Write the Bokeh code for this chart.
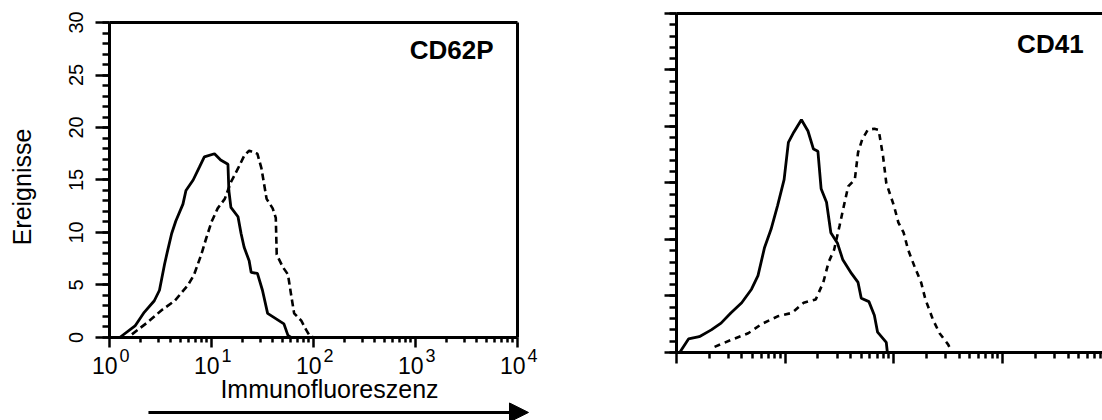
import math
from bokeh.plotting import figure
from bokeh.models import (FixedTicker, LinearAxis, LogAxis, Arrow, NormalHead, Range1d,
                          CustomJSTickFormatter)
from bokeh.layouts import row
from bokeh.core.properties import value
from bokeh.embed import file_html
from bokeh.resources import INLINE

# ---------------- data ----------------
# CD62P panel: solid = control, dashed = stimulated
cd62p_solid_x = [1.26, 1.78, 2.19, 2.75, 3.09, 3.47, 3.72, 4.07, 4.47, 5.25, 5.62, 6.61, 7.59, 8.51,
                 10.7, 12.3, 14.5, 14.8, 15.5, 18.2, 19.5, 20.9, 23.4, 24.5, 28.2, 31.6, 35.5, 42.7,
                 51.3, 56.2, 60.3]
cd62p_solid_y = [0, 1.1, 2.4, 3.5, 4.5, 7.0, 8.3, 9.9, 11.1, 12.7, 14.0, 15.0, 16.2, 17.2,
                 17.5, 16.9, 16.5, 14.0, 12.4, 11.5, 9.9, 8.6, 7.3, 6.2, 6.1, 4.5, 2.3, 1.8,
                 1.3, 0.2, 0]
cd62p_dash_x = [1.66, 2.40, 3.24, 4.37, 5.89, 6.76, 7.94, 8.91, 10.0, 11.5, 13.5, 15.5, 18.2, 20.9,
                23.4, 28.2, 30.9, 34.7, 39.8, 42.7, 43.6, 50.1, 56.2, 60.3, 64.6, 75.9, 85.1, 91.2, 100]
cd62p_dash_y = [0.3, 1.5, 2.6, 3.5, 5.0, 6.0, 7.9, 9.5, 11.0, 12.3, 13.2, 14.8, 16.1, 17.3,
                17.8, 17.5, 16.1, 13.2, 12.3, 11.4, 7.9, 6.7, 6.0, 4.1, 2.3, 1.6, 0.7, 0.2, 0]

# CD41 panel
cd41_solid_x = [1.07, 1.29, 1.62, 2.09, 2.57, 3.16, 3.98, 4.90, 5.62, 6.46, 7.41, 8.51, 9.77, 10.7,
                12.0, 14.1, 16.2, 18.2, 20.0, 21.4, 24.0, 26.3, 30.2, 33.9, 40.7, 46.8, 50.1, 58.9,
                66.1, 70.8, 85.1, 87.1]
cd41_solid_y = [0, 1.2, 1.4, 2.0, 2.6, 3.5, 4.4, 5.6, 6.8, 9.3, 10.9, 13.0, 15.3, 18.6,
                19.5, 20.6, 19.6, 18.0, 17.8, 14.5, 13.3, 10.6, 9.7, 8.2, 7.0, 6.2, 4.8, 4.5,
                3.3, 1.8, 0.9, 0]
cd41_dash_x = [2.24, 3.16, 4.57, 6.03, 8.51, 11.5, 14.8, 19.1, 22.4, 25.1, 28.2, 31.6, 34.7, 38.0,
               43.7, 46.8, 51.3, 57.5, 66.1, 72.4, 79.4, 85.1, 100, 110, 123, 135, 155, 178, 195,
               229, 263, 316, 331]
cd41_dash_y = [0.5, 1.1, 1.7, 2.5, 3.2, 3.5, 4.4, 4.7, 6.2, 8.0, 9.1, 11.2, 13.0, 14.7,
               15.3, 17.7, 18.9, 19.7, 19.8, 19.7, 17.4, 15.0, 13.0, 11.5, 10.6, 9.1, 7.6, 6.2, 4.7,
               2.9, 1.7, 0.7, 0.3]

decades = [1, 10, 100, 1000, 10000]
decade_base = ["10", "10", "10", "10", "10"]
decade_exp = ["0", "1", "2", "3", "4"]
count_ticks = [0, 5, 10, 15, 20, 25, 30]
count_labels = ["0", "5", "10", "15", "20", "25", "30"]
count_minor = list(range(0, 31))
minor_x = [k * d for d in decades[:-1] for k in range(2, 10)]

FONT = "Liberation Sans"
LW = 3
TICK_W = 2.5


def blank():
    return CustomJSTickFormatter(code="return ''")


def tick_style(ax, major_in=0, major_out=0, minor_in=0, minor_out=0):
    ax.axis_line_width = LW
    ax.axis_line_color = "black"
    ax.major_tick_line_width = TICK_W
    ax.minor_tick_line_width = TICK_W
    ax.major_tick_line_color = "black"
    ax.minor_tick_line_color = "black"
    ax.major_tick_in = major_in
    ax.major_tick_out = major_out
    ax.minor_tick_in = minor_in
    ax.minor_tick_out = minor_out


def quiet(ax):
    ax.formatter = blank()
    ax.major_label_standoff = 0
    ax.major_label_text_font_size = "1px"
    return ax


def bare_axis(cls, **kw):
    ax = quiet(cls(ticker=FixedTicker(ticks=[]), **kw))
    tick_style(ax)
    return ax


def log_tick_axis(major_in, minor_in, **kw):
    ax = quiet(LogAxis(fixed_location=0, ticker=FixedTicker(ticks=decades, minor_ticks=minor_x), **kw))
    tick_style(ax, major_in=major_in, minor_in=minor_in)
    return ax


def count_axis(major_in, minor_in):
    ax = quiet(LinearAxis(fixed_location=1, bounds=(0, 30),
                          ticker=FixedTicker(ticks=count_ticks, minor_ticks=count_minor)))
    tick_style(ax, major_in=major_in, minor_in=minor_in)
    return ax


# ---------------- left panel: CD62P ----------------
# The frame fills the whole left part of the page; the histogram box is made of
# bounded axes fixed at x = 1, x = 10^4, y = 0 and y = 30, and the labels, the axis
# title and the arrow are drawn inside the frame around it.
p1 = figure(width=600, height=420, x_axis_type="log", x_axis_location=None, y_axis_location=None,
            x_range=Range1d(0.0854, 26410), y_range=Range1d(-7.905, 31.143),
            min_border_left=0, min_border_right=40, min_border_top=10, min_border_bottom=0,
            output_backend="svg", toolbar_location=None)
p1.outline_line_color = None
p1.background_fill_color = "white"
p1.border_fill_color = "white"
p1.xgrid.visible = False
p1.ygrid.visible = False

# left edge (ticks pointing outwards, to the left), right edge, bottom edge, top edge
p1.add_layout(count_axis(14, 7), "right")
p1.add_layout(bare_axis(LinearAxis, fixed_location=10000, bounds=(0, 30)), "right")
p1.add_layout(log_tick_axis(10, 5, bounds=(1, 10000)), "above")
p1.add_layout(bare_axis(LogAxis, fixed_location=30, bounds=(1, 10000)), "above")

p1.line(cd62p_solid_x, cd62p_solid_y, line_color="black", line_width=2.8)
p1.line(cd62p_dash_x, cd62p_dash_y, line_color="black", line_width=2.6, line_dash="7 4")

# count tick labels (rotated) and the y title
p1.text(x=[1] * len(count_ticks), y=count_ticks, text=count_labels, angle=math.pi / 2,
        x_offset=-33, text_align="center", text_baseline="alphabetic", text_font=value(FONT),
        text_font_size="20px", text_color="black")
p1.text(x=[1], y=[15], text=["Ereignisse"], angle=math.pi / 2, x_offset=-87, y_offset=7,
        text_align="center", text_baseline="alphabetic", text_font=value(FONT),
        text_font_size="25px", text_color="black")

# decade labels 10^n
p1.text(x=decades, y=[0] * len(decades), text=decade_base, x_offset=8, y_offset=28,
        text_align="right", text_baseline="alphabetic", text_font=value(FONT),
        text_font_size="23px", text_color="black")
p1.text(x=decades, y=[0] * len(decades), text=decade_exp, x_offset=10, y_offset=18,
        text_align="left", text_baseline="alphabetic", text_font=value(FONT),
        text_font_size="18px", text_color="black")
p1.text(x=[100], y=[0], text=["Immunofluoreszenz"], x_offset=16, y_offset=52,
        text_align="center", text_baseline="alphabetic", text_font=value(FONT),
        text_font_size="25px", text_color="black")
p1.add_layout(Arrow(x_start=2.41, y_start=-7.14, x_end=12820, y_end=-7.14,
                    line_color="black", line_width=LW,
                    end=NormalHead(size=19, fill_color="black", line_color="black", line_width=1)))
p1.text(x=[10000], y=[30], text=["CD62P"], x_offset=-24, y_offset=27,
        text_align="right", text_baseline="alphabetic", text_font=value(FONT),
        text_font_style="bold", text_font_size="26px", text_color="black")

# ---------------- right panel: CD41 ----------------
p2 = figure(width=502, height=420, x_axis_type="log", x_axis_location=None, y_axis_location=None,
            x_range=Range1d(0.5766, 8300), y_range=Range1d(-6.018, 30.265),
            min_border_left=50, min_border_right=0, min_border_top=10, min_border_bottom=0,
            output_backend="svg", toolbar_location=None)
p2.outline_line_color = None
p2.background_fill_color = "white"
p2.border_fill_color = "white"
p2.xgrid.visible = False
p2.ygrid.visible = False
p2.add_layout(count_axis(12, 7), "right")
p2.add_layout(log_tick_axis(11, 6, bounds=(1, 8300)), "above")
p2.add_layout(bare_axis(LogAxis, fixed_location=30, bounds=(1, 8300)), "above")

p2.line(cd41_solid_x, cd41_solid_y, line_color="black", line_width=2.8)
p2.line(cd41_dash_x, cd41_dash_y, line_color="black", line_width=2.6, line_dash="6 5")
p2.text(x=[1000], y=[30], text=["CD41"], x_offset=81, y_offset=31,
        text_align="right", text_baseline="alphabetic", text_font=value(FONT),
        text_font_style="bold", text_font_size="26px", text_color="black")

layout = row(p1, p2)
open("out.html", "w").write(file_html(layout, INLINE))
